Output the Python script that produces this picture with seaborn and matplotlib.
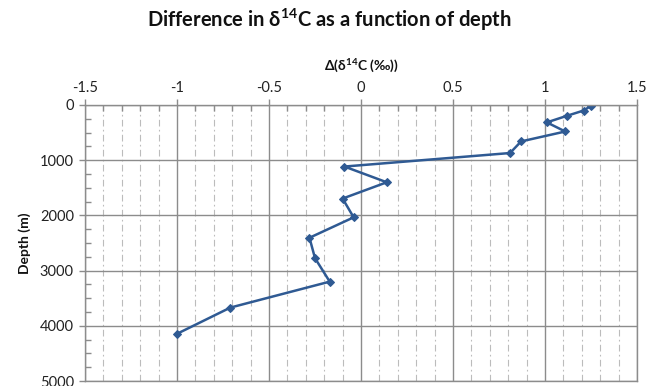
import matplotlib
matplotlib.use("Agg")
import matplotlib.pyplot as plt
from matplotlib.ticker import MultipleLocator
import seaborn as sns
import pandas as pd

delta_d14c = [1.25, 1.21, 1.12, 1.01, 1.11, 0.87, 0.81, -0.09, 0.14, -0.10,
              -0.04, -0.28, -0.25, -0.17, -0.71, -1.00]
depth_m = [15, 100, 195, 315, 480, 660, 870, 1115, 1400, 1695,
           2035, 2405, 2775, 3200, 3670, 4145]

x_ticks = [-1.5, -1, -0.5, 0, 0.5, 1, 1.5]
y_ticks = [0, 1000, 2000, 3000, 4000, 5000]

sns.set_theme(style="white")
plt.rcParams["font.family"] = ["Lato", "DejaVu Sans"]
plt.rcParams["mathtext.fontset"] = "custom"
plt.rcParams["mathtext.rm"] = "Lato"
plt.rcParams["mathtext.bf"] = "Lato:bold"

df = pd.DataFrame({"delta": delta_d14c, "depth": depth_m})

fig = plt.figure(figsize=(6.59, 3.86), dpi=100)
ax = fig.add_axes([85 / 659, 1 - 381 / 386, (637 - 85) / 659, (381 - 105) / 386])

line_color = "#2F5A93"
sns.lineplot(data=df, x="delta", y="depth", sort=False, estimator=None,
             color=line_color, lw=1.8, marker="D", markersize=4.5,
             markeredgecolor=line_color, ax=ax)

ax.set_xlim(-1.5, 1.5)
ax.set_ylim(5000, 0)
ax.xaxis.tick_top()
ax.xaxis.set_label_position("top")
ax.set_xticks(x_ticks)
ax.set_xticklabels([f"{t:g}" for t in x_ticks])
ax.set_yticks(y_ticks)
ax.set_yticklabels([str(t) for t in y_ticks])
ax.xaxis.set_minor_locator(MultipleLocator(0.1))
ax.yaxis.set_minor_locator(MultipleLocator(250))

ax.grid(which="major", color="#8c8c8c", lw=1.0, ls="-")
ax.grid(which="minor", axis="x", color="#bcbcbc", lw=0.8, ls=(0, (6, 3, 1.5, 3)))
ax.set_axisbelow(True)

for s in ax.spines.values():
    s.set_color("#8c8c8c")
    s.set_linewidth(1.0)

ax.tick_params(axis="both", which="major", labelsize=10.5, colors="#8c8c8c",
               labelcolor="#222222", length=4, width=1.0, direction="out")
ax.tick_params(axis="both", which="minor", colors="#8c8c8c", length=4, width=1.0,
               direction="in")
ax.tick_params(axis="x", which="both", top=True, bottom=False, pad=3)
ax.tick_params(axis="y", which="both", left=True, right=False, pad=4)

ax.set_xlabel(r"Δ(δ$^{\mathbf{14}}$C (‰))", fontsize=10, fontweight="bold",
              color="#111111", labelpad=8)
ax.set_ylabel("Depth (m)", fontsize=10, fontweight="bold", color="#111111", labelpad=6)

fig.text(0.5, 1 - 20 / 386, r"Difference in δ$^{\mathbf{14}}$C as a function of depth",
         ha="center", va="center", fontsize=14.5, fontweight="bold", color="#111111")

fig.savefig("out.png", dpi=100)
